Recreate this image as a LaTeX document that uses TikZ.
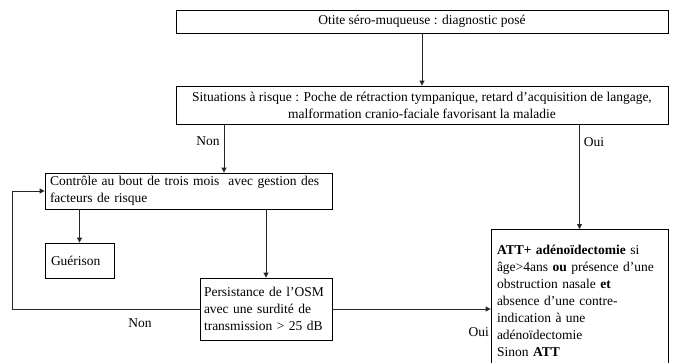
\documentclass[tikz,border=0pt]{standalone}
\usepackage{fontspec}
\setmainfont{Liberation Serif}
\usepackage{tikz}
\usetikzlibrary{positioning,arrows.meta}

\tikzset{
  boite/.style={draw=black, line width=0.8pt, inner xsep=6pt, inner ysep=2pt, font=\fontsize{13.5}{17}\selectfont},
  fleche/.style={draw=black!85, line width=0.8pt, -{Triangle[length=5pt,width=5pt]}},
  etiq/.style={inner sep=1pt, font=\fontsize{13.5}{17}\selectfont}
}

\begin{document}
\begin{tikzpicture}[x=1pt,y=1pt]
\useasboundingbox (0,0) rectangle (675,-362);
% boites
\node[boite, minimum width=492pt, minimum height=23pt] (diag) at (422,-21.5) {Otite séro-muqueuse : diagnostic posé};
\node[boite, inner xsep=3pt, minimum width=492pt, minimum height=38pt, align=center] (risque) at (422,-105)
  {Situations à risque : Poche de rétraction tympanique, retard d’acquisition de langage,\\malformation cranio-faciale favorisant la maladie};
\node[boite, inner xsep=5pt, text width=277pt, minimum height=36pt, align=left] (controle) at (188.5,-191)
  {Contrôle au bout de trois mois\ \ avec gestion des\\facteurs de risque};
\node[boite, text width=57pt, minimum height=35pt, align=left] (guerison) at (79.5,-260.5) {Guérison};
\node[boite, inner xsep=4pt, text width=124pt, minimum height=62pt, align=left] (persist) at (266,-309)
  {Persistance de l’OSM\\avec une surdité de\\transmission > 25 dB};
\node[boite, text width=165pt, minimum height=142pt, align=left, anchor=north] (att) at (579.5,-229)
  {\textbf{ATT+ adénoïdectomie} si\\âge>4ans \textbf{ou} présence d’une\\obstruction nasale \textbf{et}\\absence d’une contre-\\indication à une\\adénoïdectomie\\Sinon \textbf{ATT}};
% fleches
\coordinate (nonx) at (224,-124);
\coordinate (boucle) at (12,-309);
\draw[fleche] (diag.south) -- (risque.north);
\draw[fleche] (nonx) -- (controle.north -| nonx) node[etiq, pos=0.35, left=3pt] {Non};
\draw[fleche] (risque.south -| att.north) -- (att.north) node[etiq, pos=0.17, right=3pt] {Oui};
\draw[fleche] (controle.south -| guerison.north) -- (guerison.north);
\draw[fleche] (controle.south -| persist.north) -- (persist.north);
\draw[fleche] (persist.east) -- (att.west |- persist.east);
\draw[fleche] (persist.west) -- (boucle) |- (controle.west);
\node[etiq] (nonb) at (140,-323) {Non};
\node[etiq, anchor=east] (ouib) at (490,-332) {Oui};
\end{tikzpicture}
\end{document}
